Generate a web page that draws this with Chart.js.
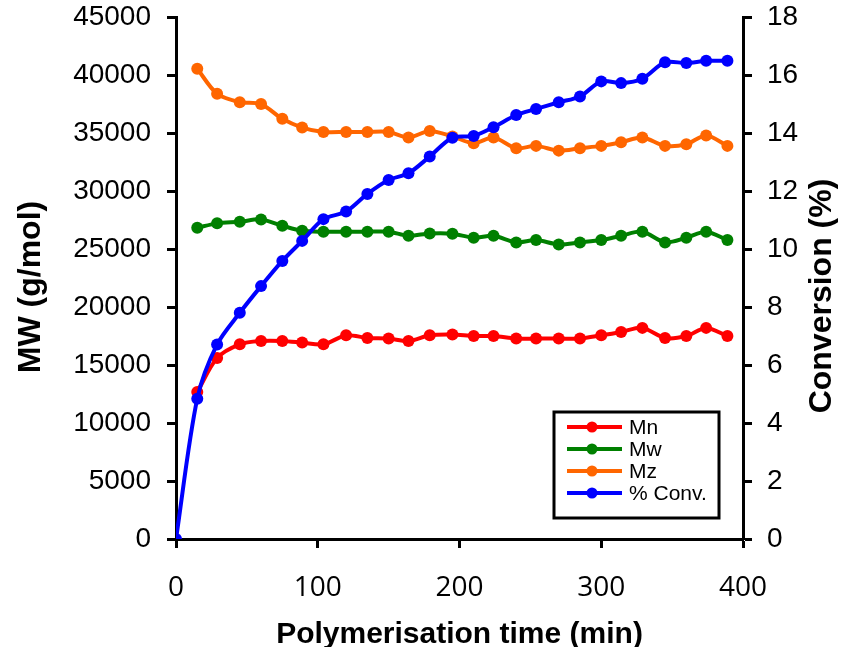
<!DOCTYPE html>
<html>
<head>
<meta charset="utf-8">
<script src="https://cdn.jsdelivr.net/npm/chart.js@4.4.1/dist/chart.umd.min.js"></script>
<style>
  body { margin: 0; background: #fff; }
  canvas { display: block; }
</style>
</head>
<body>
<canvas id="mwChart" width="857" height="647"></canvas>
<script>
// polymerisation time (min) for the GPC samples
const times = [15, 29, 45, 60, 75, 89, 104, 120, 135, 150, 164, 179, 195, 210, 224, 240, 254, 270, 285, 300, 314, 329, 345, 360, 374, 389];
// conversion also has the t=0 point
const convTimes = [0, 15, 29, 45, 60, 75, 89, 104, 120, 135, 150, 164, 179, 195, 210, 224, 240, 254, 270, 285, 300, 314, 329, 345, 360, 374, 389];

const mn = [12670, 15600, 16780, 17070, 17070, 16930, 16780, 17560, 17330, 17280, 17070, 17560, 17630, 17500, 17500, 17280, 17280, 17280, 17280, 17560, 17850, 18200, 17330, 17500, 18200, 17500];
const mw = [26830, 27210, 27350, 27550, 27010, 26570, 26490, 26490, 26490, 26490, 26140, 26340, 26320, 25970, 26140, 25570, 25770, 25390, 25570, 25770, 26140, 26490, 25570, 25970, 26490, 25770];
const mz = [40540, 38380, 37660, 37490, 36220, 35470, 35090, 35090, 35090, 35090, 34610, 35180, 34700, 34120, 34610, 33690, 33890, 33480, 33690, 33890, 34200, 34610, 33890, 34030, 34780, 33890];
const conv = [0, 4.84, 6.71, 7.80, 8.72, 9.59, 10.28, 11.03, 11.29, 11.90, 12.38, 12.61, 13.19, 13.84, 13.90, 14.20, 14.62, 14.83, 15.06, 15.26, 15.78, 15.72, 15.87, 16.44, 16.41, 16.49, 16.49];

const legendItems = ['Mn', 'Mw', 'Mz', '% Conv.'];
const colors = ['#ff0000', '#008000', '#ff6600', '#0000ff'];

const yTitle = 'MW (g/mol)';
const y2Title = 'Conversion (%)';
const xTitle = 'Polymerisation time (min)';

function toXY(xs, ys) {
    return ys.map((v, i) => ({ x: xs[i], y: v }));
}

function series(label, xs, ys, color, axis, order) {
    return {
        label,
        data: toXY(xs, ys),
        yAxisID: axis,
        borderColor: color,
        backgroundColor: color,
        pointBackgroundColor: color,
        pointBorderColor: color,
        borderWidth: 4,
        pointRadius: 6,
        pointBorderWidth: 0,
        tension: 0.3,
        order
    };
}

// titles drawn by hand so the right one reads bottom-to-top like the left one
const titlesAndLegend = {
    id: 'titlesAndLegend',
    afterDraw(chart) {
        const ctx = chart.ctx;
        ctx.save();
        ctx.fillStyle = '#000';
        ctx.font = 'bold 32px "Liberation Sans", Arial, sans-serif';
        ctx.textAlign = 'center';
        ctx.textBaseline = 'middle';

        ctx.save();
        ctx.translate(31, 287);
        ctx.rotate(-Math.PI / 2);
        ctx.fillText(yTitle, 0, 0);
        ctx.restore();

        ctx.save();
        ctx.translate(822, 296);
        ctx.rotate(-Math.PI / 2);
        ctx.fillText(y2Title, 0, 0);
        ctx.restore();

        // legend box
        const bx = 554, by = 412, bw = 165, bh = 106;
        ctx.fillStyle = '#fff';
        ctx.fillRect(bx, by, bw, bh);
        ctx.strokeStyle = '#000';
        ctx.lineWidth = 3;
        ctx.strokeRect(bx, by, bw, bh);

        ctx.font = '21px "Liberation Sans", Arial, sans-serif';
        ctx.textAlign = 'left';
        legendItems.forEach((name, i) => {
            const y = 427 + i * 22;
            ctx.strokeStyle = colors[i];
            ctx.lineWidth = 4;
            ctx.beginPath();
            ctx.moveTo(567, y);
            ctx.lineTo(622, y);
            ctx.stroke();
            ctx.fillStyle = colors[i];
            ctx.beginPath();
            ctx.arc(592, y, 5.5, 0, Math.PI * 2);
            ctx.fill();
            ctx.fillStyle = '#000';
            ctx.fillText(name, 629, y + 1);
        });
        ctx.restore();
    }
};

const tickFont = { family: '"Liberation Sans", Arial, sans-serif', size: 28 };
const plain = v => String(v);

// fixed box sizes so the plot area lands where it does in the figure
function fixY(width) {
    return s => { s.width = width; s.paddingTop = 0; s.paddingBottom = 0; };
}

new Chart(document.getElementById('mwChart'), {
    type: 'line',
    data: {
        datasets: [
            series('Mn', times, mn, colors[0], 'y', 3),
            series('Mw', times, mw, colors[1], 'y', 2),
            series('Mz', times, mz, colors[2], 'y', 1),
            series('% Conv.', convTimes, conv, colors[3], 'y2', 0)
        ]
    },
    options: {
        responsive: false,
        animation: false,
        devicePixelRatio: 1,
        layout: { padding: { top: 17, left: 0, right: 0, bottom: 0 } },
        plugins: { legend: { display: false }, tooltip: { enabled: false } },
        scales: {
            x: {
                type: 'linear',
                min: 0, max: 400,
                afterFit: s => { s.height = 108; s.paddingLeft = 0; s.paddingRight = 0; },
                ticks: { stepSize: 100, color: '#000', padding: 23, maxRotation: 0, callback: plain,
                         font: { family: '"Open Sans", sans-serif', size: 28 } },
                grid: { drawOnChartArea: false, tickLength: 9, tickWidth: 3, color: '#000' },
                border: { color: '#000', width: 3 },
                title: { display: true, text: xTitle, color: '#000', padding: { top: 0, bottom: 0 },
                         font: { family: '"Liberation Sans", Arial, sans-serif', size: 30, weight: 'bold', lineHeight: 0.8 } }
            },
            y: {
                position: 'left',
                min: 0, max: 45000,
                afterFit: fixY(176),
                ticks: { stepSize: 5000, color: '#000', padding: 16, font: tickFont, callback: plain },
                grid: { drawOnChartArea: false, tickLength: 9, tickWidth: 3, color: '#000' },
                border: { color: '#000', width: 3 }
            },
            y2: {
                position: 'right',
                min: 0, max: 18,
                afterFit: fixY(114),
                ticks: { stepSize: 2, color: '#000', padding: 15, font: tickFont, callback: plain },
                grid: { drawOnChartArea: false, tickLength: 9, tickWidth: 3, color: '#000' },
                border: { color: '#000', width: 3 }
            }
        }
    },
    plugins: [titlesAndLegend]
});
</script>
</body>
</html>
